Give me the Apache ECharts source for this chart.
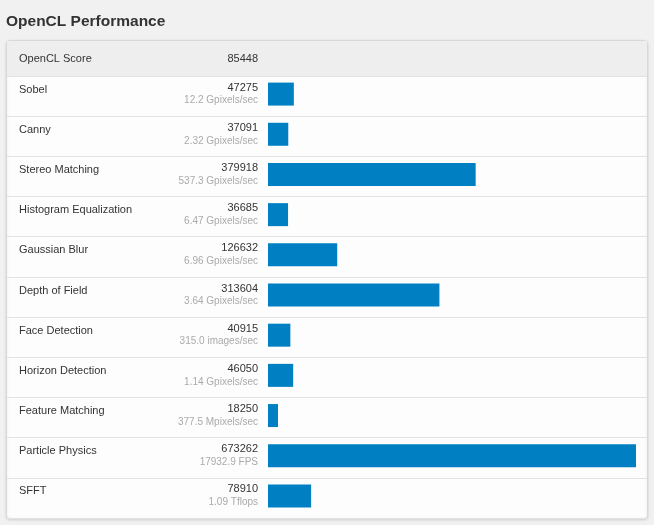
<!DOCTYPE html>
<html>
<head>
<meta charset="utf-8">
<script src="https://cdn.jsdelivr.net/npm/echarts@6/dist/echarts.min.js"></script>
<style>
html,body{margin:0;padding:0;background:#f1f1f1;}
#c{width:654px;height:525px;}
</style>
</head>
<body>
<div id="c"></div>
<script>
const chartTitle = 'OpenCL Performance';
const headerLabel = 'OpenCL Score';
const headerScore = 85448;
const categories = ['Sobel','Canny','Stereo Matching','Histogram Equalization','Gaussian Blur','Depth of Field','Face Detection','Horizon Detection','Feature Matching','Particle Physics','SFFT'];
const scores = [47275,37091,379918,36685,126632,313604,40915,46050,18250,673262,78910];
const units = ['12.2 Gpixels/sec','2.32 Gpixels/sec','537.3 Gpixels/sec','6.47 Gpixels/sec','6.96 Gpixels/sec','3.64 Gpixels/sec','315.0 images/sec','1.14 Gpixels/sec','377.5 Mpixels/sec','17932.9 FPS','1.09 Tflops'];

const FONT = '"Liberation Sans", Arial, sans-serif';
const chart = echarts.init(document.getElementById('c'), null, {renderer:'canvas'});
chart.setOption({
  backgroundColor: '#f1f1f1',
  animation: false,
  title: {
    text: chartTitle, left: 6, top: 14, padding: 0,
    textStyle: {fontFamily: FONT, fontSize: 15.5, fontWeight: 'bold', color: '#333'}
  },
  graphic: [
    {type:'rect', z:-10, shape:{x:6.5, y:40.5, width:641, height:478, r:3},
     style:{fill:'#fdfdfd', stroke:'#d8d8d8', lineWidth:1, shadowBlur:3, shadowColor:'rgba(0,0,0,0.12)', shadowOffsetY:1}},
    {type:'rect', z:-9, shape:{x:7, y:41, width:640, height:35},
     style:{fill:'#eeeeee'}},
    {type:'text', z:5, style:{x:19, y:58.5, text:headerLabel, textVerticalAlign:'middle', fill:'#333', font:'11px ' + FONT}},
    {type:'text', z:5, style:{x:258, y:58.5, text:String(headerScore), textAlign:'right', textVerticalAlign:'middle', fill:'#333', font:'11px ' + FONT}}
  ],
  grid: [
    {left: 7, right: 7, top: 76, bottom: 7},
    {left: 268, right: 18, top: 74, bottom: 9}
  ],
  xAxis: [
    {gridIndex:0, type:'value', min:0, max:1, show:false},
    {gridIndex:1, type:'value', min:0, max:Math.max(...scores), show:false}
  ],
  yAxis: [
    {gridIndex:0, type:'category', data:categories, inverse:true,
     axisLine:{show:false}, axisTick:{show:false},
     splitLine:{show:true, lineStyle:{color:'#e3e3e3', width:1}},
     axisLabel:{inside:true, margin:12, align:'left',
       formatter: v => '{a|' + v + '}\n{b| }',
       rich:{a:{fontFamily:FONT, fontSize:11, color:'#333', lineHeight:13}, b:{fontSize:10, lineHeight:13}}}},
    {gridIndex:1, type:'category', data:categories, inverse:true,
     axisLine:{show:false}, axisTick:{show:false}, splitLine:{show:false},
     axisLabel:{margin:10, align:'right',
       formatter: (v, i) => '{a|' + scores[i] + '}\n{b|' + units[i] + '}',
       rich:{a:{fontFamily:FONT, fontSize:11, color:'#333', lineHeight:13, align:'right'},
             b:{fontFamily:FONT, fontSize:10, color:'#aaaaaa', lineHeight:13, align:'right'}}}}
  ],
  series: [
    {type:'bar', xAxisIndex:1, yAxisIndex:1, data:scores, barWidth:23,
     itemStyle:{color:'#0080c3'}}
  ]
});
</script>
</body>
</html>
